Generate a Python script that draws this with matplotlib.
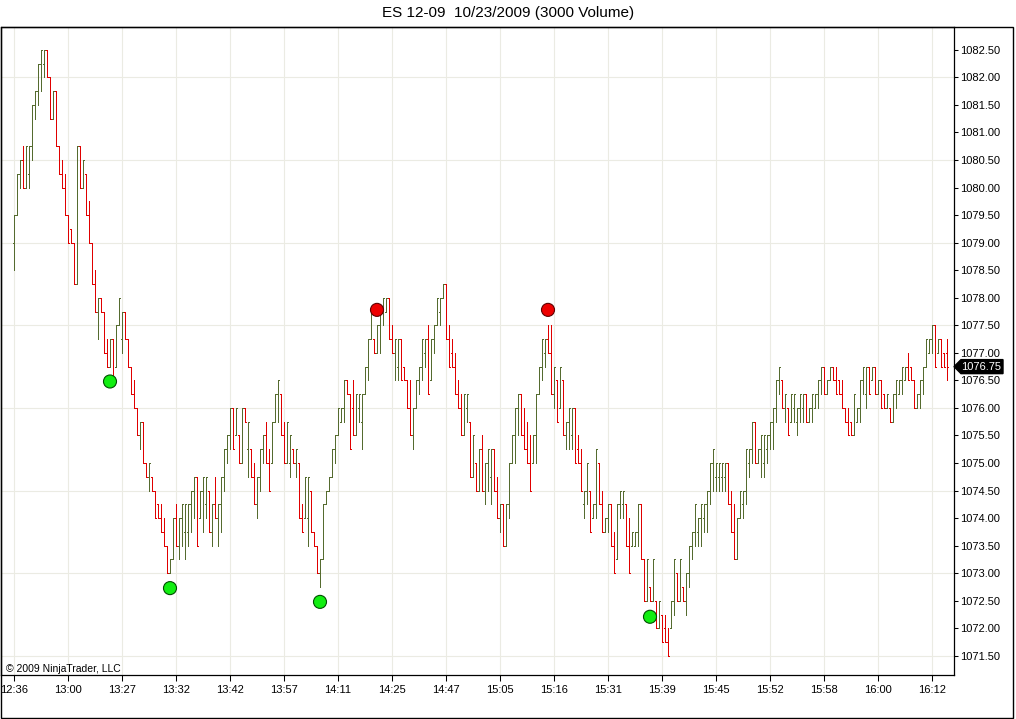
import matplotlib
matplotlib.use('Agg')
import matplotlib.pyplot as plt
from matplotlib.collections import LineCollection
from matplotlib.patches import Rectangle, Polygon
from matplotlib.transforms import IdentityTransform

plt.rcParams['font.family'] = ['Liberation Sans', 'DejaVu Sans']

# ---------------- data (prices in ticks of 0.25 above 1070.00) ----------------
BASE = 1070.0
TICK = 0.25

opens = [36, 38, 41, 42, 40, 41, 43, 46, 47, 49, 49, 50, 48, 45, 47, 43, 41, 40, 38, 37,
         36, 33, 43, 40, 41, 38, 36, 33, 31, 32, 31, 28, 27, 29, 27, 30, 29, 31, 29, 27,
         25, 24, 22, 23, 20, 19, 19, 18, 17, 16, 15, 14, 12, 13, 16, 14, 16, 15, 15, 17,
         18, 19, 16, 18, 17, 18, 15, 17, 16, 17, 19, 21, 22, 24, 22, 22, 20, 24, 21, 21,
         19, 17, 19, 21, 22, 20, 20, 23, 25, 25, 22, 20, 20, 21, 20, 20, 16, 16, 16, 18,
         15, 14, 12, 13, 17, 18, 19, 21, 22, 23, 24, 26, 25, 24, 22, 24, 23, 25, 27, 29,
         29, 28, 30, 31, 31, 32, 29, 28, 27, 29, 27, 26, 24, 22, 24, 26, 27, 28, 29, 26,
         29, 30, 31, 32, 33, 29, 28, 27, 25, 24, 22, 24, 23, 19, 20, 18, 21, 18, 20, 19,
         21, 18, 16, 17, 14, 17, 20, 22, 24, 25, 22, 21, 20, 20, 22, 25, 27, 28, 29, 28,
         25, 26, 24, 26, 22, 23, 22, 24, 21, 20, 17, 18, 18, 16, 17, 20, 17, 15, 16, 17,
         14, 13, 17, 17, 17, 14, 14, 14, 15, 17, 13, 10, 11, 10, 10, 8, 9, 8, 7, 8,
         10, 12, 10, 11, 10, 12, 14, 15, 15, 16, 16, 17, 18, 20, 19, 19, 19, 19, 20, 17,
         15, 13, 16, 17, 18, 20, 21, 23, 20, 21, 20, 21, 22, 23, 24, 26, 26, 24, 24, 23,
         24, 23, 24, 24, 25, 23, 24, 24, 25, 26, 27, 25, 26, 27, 26, 26, 25, 24, 23, 23,
         22, 23, 24, 26, 25, 27, 26, 27, 25, 26, 25, 24, 24, 23, 25, 25, 26, 26, 27, 27,
         26, 24, 25, 26, 27, 28, 29, 30, 28, 29, 28, 28]
highs = [38, 41, 42, 43, 43, 43, 46, 47, 49, 50, 50, 50, 48, 47, 47, 43, 42, 41, 38, 37,
         36, 43, 43, 42, 41, 39, 36, 34, 32, 32, 31, 29, 29, 29, 30, 32, 31, 31, 29, 27,
         26, 24, 23, 23, 20, 20, 19, 18, 17, 17, 16, 14, 13, 16, 17, 16, 17, 17, 17, 18,
         19, 19, 18, 19, 19, 18, 17, 19, 17, 19, 21, 22, 24, 24, 24, 22, 24, 24, 23, 21,
         20, 19, 21, 22, 23, 21, 23, 25, 26, 25, 23, 23, 22, 21, 21, 20, 17, 19, 19, 18,
         15, 14, 13, 17, 18, 19, 21, 22, 24, 24, 26, 26, 25, 26, 25, 25, 25, 27, 29, 31,
         29, 30, 31, 32, 32, 32, 30, 29, 29, 29, 27, 26, 26, 24, 26, 27, 29, 29, 30, 29,
         30, 32, 32, 33, 33, 30, 29, 28, 26, 25, 25, 25, 23, 22, 20, 21, 22, 20, 21, 21,
         21, 19, 17, 17, 17, 20, 22, 24, 25, 25, 24, 23, 22, 22, 25, 27, 29, 29, 30, 30,
         27, 26, 27, 26, 23, 24, 24, 24, 22, 21, 18, 20, 18, 17, 21, 20, 18, 16, 17, 17,
         15, 17, 18, 18, 17, 16, 15, 15, 17, 17, 13, 13, 11, 13, 10, 10, 9, 9, 8, 10,
         13, 12, 13, 11, 12, 14, 15, 17, 16, 17, 17, 18, 20, 21, 20, 20, 20, 20, 20, 18,
         17, 16, 18, 18, 21, 21, 23, 23, 21, 22, 22, 22, 23, 24, 26, 27, 26, 25, 24, 25,
         25, 24, 25, 25, 25, 24, 25, 25, 26, 27, 27, 26, 27, 27, 27, 26, 26, 24, 24, 23,
         25, 24, 26, 27, 27, 27, 27, 27, 26, 26, 25, 25, 24, 25, 26, 26, 27, 27, 28, 27,
         26, 25, 26, 27, 29, 29, 30, 30, 29, 29, 28, 29]
lows = [34, 38, 40, 40, 40, 40, 42, 45, 46, 47, 48, 48, 45, 45, 43, 41, 40, 38, 36, 36,
        33, 33, 40, 40, 38, 36, 33, 31, 29, 31, 28, 27, 27, 26, 27, 30, 28, 29, 27, 25,
        24, 22, 21, 20, 19, 18, 18, 16, 16, 15, 14, 12, 12, 13, 14, 13, 14, 13, 14, 15,
        16, 14, 16, 15, 16, 15, 14, 16, 14, 15, 18, 20, 21, 21, 22, 20, 20, 23, 19, 19,
        17, 16, 18, 20, 20, 18, 20, 23, 23, 22, 20, 20, 19, 20, 19, 16, 15, 16, 14, 15,
        14, 12, 11, 13, 17, 18, 19, 20, 22, 23, 23, 25, 21, 22, 22, 23, 21, 25, 26, 29,
        28, 28, 28, 30, 31, 29, 28, 26, 26, 26, 26, 24, 22, 21, 24, 25, 26, 27, 25, 26,
        28, 30, 30, 32, 29, 27, 27, 25, 24, 22, 22, 23, 19, 19, 18, 18, 18, 17, 18, 17,
        18, 16, 15, 14, 14, 16, 20, 20, 22, 22, 21, 20, 18, 20, 20, 25, 26, 27, 28, 25,
        24, 23, 24, 22, 21, 21, 21, 20, 20, 18, 16, 17, 15, 16, 16, 17, 15, 15, 15, 14,
        12, 13, 16, 16, 14, 12, 14, 14, 14, 13, 10, 10, 10, 10, 8, 8, 7, 7, 6, 8,
        9, 10, 10, 10, 9, 11, 13, 14, 14, 14, 15, 15, 17, 18, 18, 18, 18, 18, 17, 15,
        13, 13, 16, 16, 17, 19, 20, 20, 20, 19, 19, 20, 21, 21, 23, 25, 24, 23, 22, 23,
        23, 22, 23, 23, 23, 23, 23, 24, 24, 25, 25, 25, 26, 26, 25, 25, 24, 23, 22, 22,
        22, 23, 23, 25, 24, 25, 26, 25, 25, 24, 24, 24, 23, 23, 24, 25, 25, 26, 26, 26,
        24, 24, 24, 25, 27, 28, 28, 27, 28, 27, 27, 26]
closes = [38, 41, 42, 40, 43, 43, 46, 47, 49, 50, 50, 48, 45, 47, 43, 41, 40, 38, 36, 36,
          33, 43, 40, 42, 38, 36, 33, 31, 32, 31, 28, 27, 29, 26, 30, 32, 31, 29, 27, 25,
          24, 22, 23, 20, 19, 20, 18, 16, 16, 15, 14, 12, 13, 16, 14, 16, 17, 17, 17, 18,
          19, 14, 18, 19, 19, 15, 17, 16, 17, 19, 21, 22, 24, 21, 24, 20, 24, 23, 23, 19,
          17, 19, 21, 22, 20, 18, 23, 25, 26, 22, 20, 23, 22, 20, 21, 16, 15, 19, 19, 15,
          14, 12, 13, 17, 18, 19, 21, 22, 24, 24, 26, 25, 21, 22, 25, 25, 25, 27, 29, 31,
          28, 30, 31, 32, 32, 29, 28, 29, 29, 26, 26, 24, 22, 24, 26, 27, 29, 29, 25, 29,
          30, 32, 32, 33, 29, 27, 27, 25, 24, 22, 25, 25, 19, 22, 18, 21, 18, 20, 21, 21,
          18, 16, 17, 14, 17, 20, 22, 24, 25, 22, 21, 20, 18, 22, 25, 27, 29, 29, 28, 25,
          27, 23, 27, 22, 23, 24, 24, 20, 20, 18, 18, 20, 15, 17, 21, 17, 15, 16, 17, 14,
          12, 17, 18, 18, 14, 12, 15, 15, 17, 13, 10, 13, 10, 13, 8, 10, 7, 7, 6, 10,
          13, 10, 13, 10, 12, 14, 15, 17, 16, 17, 17, 18, 20, 21, 20, 20, 20, 20, 17, 15,
          13, 16, 18, 18, 21, 21, 23, 20, 21, 22, 22, 22, 23, 24, 26, 27, 24, 25, 22, 25,
          25, 24, 25, 25, 23, 24, 25, 25, 26, 27, 25, 26, 27, 26, 25, 25, 24, 23, 22, 22,
          25, 24, 26, 27, 27, 25, 27, 25, 26, 24, 24, 25, 23, 25, 26, 26, 27, 27, 26, 26,
          24, 25, 26, 27, 29, 29, 30, 27, 29, 27, 27, 27]

time_labels = ['12:36', '13:00', '13:27', '13:32', '13:42', '13:57', '14:11', '14:25', '14:47',
               '15:05', '15:16', '15:31', '15:39', '15:45', '15:52', '15:58', '16:00', '16:12']
label_bars = [0, 18, 36, 54, 72, 90, 108, 126, 144, 162, 180, 198, 216, 234, 252, 270, 288, 306]

price_ticks = [1071.5 + 0.5 * k for k in range(23)]
grid_prices = [1071.5, 1073.0, 1074.5, 1076.0, 1077.5, 1079.0, 1080.5, 1082.0]

dot_bars = [32, 52, 102, 121, 178, 212]
dot_prices = [1076.48, 1072.73, 1072.48, 1077.78, 1077.78, 1072.21]
dot_is_high = [False, False, False, True, True, False]

last_price = 1076.75
title = 'ES 12-09  10/23/2009 (3000 Volume)'
copyright_text = '\u00a9 2009 NinjaTrader, LLC'

# ---------------- figure ----------------
W, H = 1016, 719
fig = plt.figure(figsize=(W / 100, H / 100), dpi=100)
fig.patch.set_facecolor('white')

PL, PR, PT, PB = 1, 954, 27, 675
ax = fig.add_axes([PL / W, 1 - PB / H, (PR - PL) / W, (PB - PT) / H])
ax.set_facecolor('white')

UP = '#556B2F'
DN = '#E00000'
GRID = '#EBEBE3'

def px(t):
    return BASE + TICK * t

segs, cols = [], []
for i, (o, h, l, c) in enumerate(zip(opens, highs, lows, closes)):
    col = UP if c > o else DN
    segs.append([(i, px(l)), (i, px(h))])
    segs.append([(i - 0.36, px(o)), (i, px(o))])
    segs.append([(i, px(c)), (i + 0.36, px(c))])
    cols += [col, col, col]
lc = LineCollection(segs, colors=cols, linewidths=0.68, antialiased=False, zorder=3)
ax.add_collection(lc)

for b in label_bars:
    ax.axvline(b, color=GRID, lw=0.8, zorder=1)
for g in grid_prices:
    ax.axhline(g, color=GRID, lw=0.8, zorder=1)

fills = ['#EE0000' if hi else '#11EE11' for hi in dot_is_high]
edges = ['#600000' if hi else '#005000' for hi in dot_is_high]
ax.scatter(dot_bars, dot_prices, s=88, c=fills, edgecolors=edges, linewidths=0.8, zorder=5)

ax.set_xlim((PL - 14) / 3, (PR - 14) / 3)
ax.set_ylim(1071.153, 1082.914)

ax.set_xticks(label_bars)
ax.set_xticklabels(time_labels)
ax.yaxis.tick_right()
ax.set_yticks(price_ticks)
ax.set_yticklabels(['%.2f' % p for p in price_ticks])
ax.tick_params(axis='y', direction='out', length=3.2, width=0.75, pad=1.2, labelsize=8, colors='black')
ax.tick_params(axis='x', direction='out', length=4.5, width=0.75, pad=2.5, labelsize=8, colors='black')
for s in ax.spines.values():
    s.set_color('black')
    s.set_linewidth(0.9)

# last price marker
fig.canvas.draw()
ypix = ax.transData.transform((0, last_price))[1]
poly = Polygon([(954, ypix), (961, ypix + 7), (1003, ypix + 7), (1003, ypix - 7), (961, ypix - 7)],
               closed=True, facecolor='black', edgecolor='black', transform=IdentityTransform(),
               zorder=6, clip_on=False)
fig.add_artist(poly)
fig.text(961 / W, ypix / H, '%.2f' % last_price, color='white', fontsize=8,
         ha='left', va='center', zorder=7)

# outer frame
fig.add_artist(Rectangle((1 / W, 1 / H), 1012 / W, (718 - 27) / H, transform=fig.transFigure,
                         fill=False, edgecolor='black', linewidth=1.0, zorder=10))

fig.text(0.5, 1 - 13 / H, title, ha='center', va='center', fontsize=11, color='black')
fig.text(6 / W, 1 - 669 / H, copyright_text, ha='left', va='center', fontsize=7.5, color='black')

fig.savefig('out.png', dpi=100, facecolor='white')
